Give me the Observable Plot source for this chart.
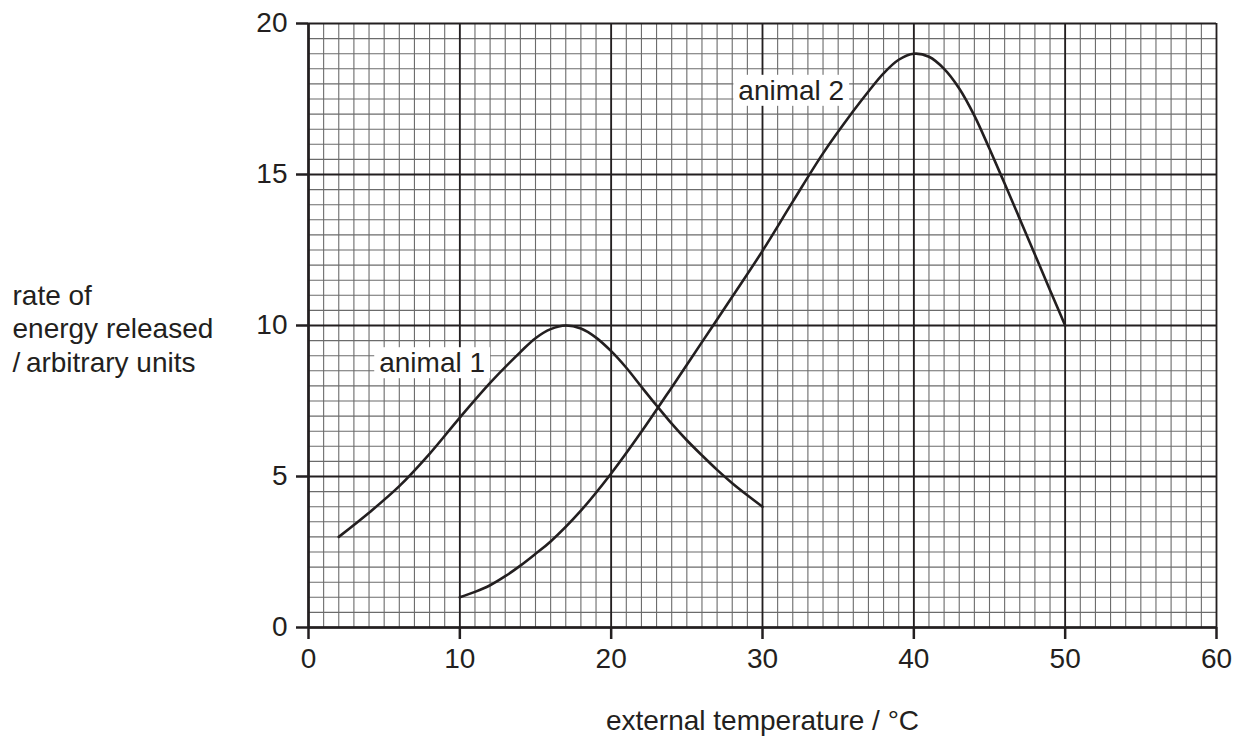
<!DOCTYPE html>
<html><head><meta charset="utf-8">
<script src="https://cdn.jsdelivr.net/npm/d3@7"></script>
<script src="https://cdn.jsdelivr.net/npm/@observablehq/plot@0.6"></script>
<style>html,body{margin:0;padding:0;background:#fff;}</style>
</head><body><div id="chart"></div>
<script>
// Data
const animal1Temp = [2, 4, 6, 8, 10, 12, 14, 15, 16, 17, 18, 19, 20, 21, 22, 23, 24, 25, 26, 27, 28, 29, 30];
const animal1Rate = [3.0, 3.8, 4.68, 5.75, 6.95, 8.1, 9.12, 9.58, 9.88, 10.0, 9.9, 9.6, 9.15, 8.6, 7.97, 7.35, 6.75, 6.2, 5.7, 5.22, 4.78, 4.38, 4.0];
const animal2Temp = [10, 11, 12, 13, 14, 15, 16, 18, 20, 22, 24, 26, 28, 30, 32, 34, 36, 37, 38, 39, 40, 41, 42, 43, 44, 45, 46, 47, 48, 49, 50];
const animal2Rate = [1.0, 1.18, 1.4, 1.7, 2.05, 2.44, 2.85, 3.87, 5.1, 6.48, 7.95, 9.45, 10.95, 12.47, 14.1, 15.7, 17.1, 17.75, 18.35, 18.8, 19.0, 18.9, 18.5, 17.85, 16.95, 15.85, 14.7, 13.53, 12.35, 11.17, 10.0];

const xTicks = [0, 10, 20, 30, 40, 50, 60];
const yTicks = [0, 5, 10, 15, 20];
const xMinor = d3.range(0, 61, 1);
const yMinor = d3.range(0, 20.01, 0.5);

const labelText = ["animal 1", "animal 2"];
const labelX = [8.17, 31.9];
const labelY = [8.75, 17.77];

const xLabel = "external temperature / °C";
const yLabel = "rate of\nenergy released\n/\u2009arbitrary units";

const ink = "#231f20";
const a1 = animal1Temp.map((t, i) => ({t, r: animal1Rate[i]}));
const a2 = animal2Temp.map((t, i) => ({t, r: animal2Rate[i]}));
const labels = labelText.map((s, i) => ({s, x: labelX[i], y: labelY[i]}));

const chart = Plot.plot({
  width: 1242,
  height: 737,
  marginTop: 23,
  marginBottom: 110,
  marginLeft: 308,
  marginRight: 26,
  style: {fontFamily: "'Liberation Sans', Arial, Helvetica, sans-serif", fontSize: "28px", color: ink, background: "#fff"},
  x: {domain: [0, 60]},
  y: {domain: [0, 20]},
  marks: [
    Plot.ruleX(xMinor, {stroke: "#6b6b6b", strokeWidth: 1.1}),
    Plot.ruleY(yMinor, {stroke: "#6b6b6b", strokeWidth: 1.1}),
    Plot.ruleX(xTicks, {stroke: ink, strokeWidth: 1.8}),
    Plot.ruleY(yTicks, {stroke: ink, strokeWidth: 1.8}),
    Plot.ruleX([0], {stroke: ink, strokeWidth: 2.6}),
    Plot.ruleY([0], {stroke: ink, strokeWidth: 2.6}),
    Plot.axisX(xTicks, {tickSize: 12, tickPadding: 9, strokeWidth: 2.5, label: null}),
    Plot.axisY(yTicks, {tickSize: 12, tickPadding: 9, strokeWidth: 2.5, label: null}),
    Plot.line(a1, {x: "t", y: "r", curve: "catmull-rom", stroke: ink, strokeWidth: 2.6, strokeLinejoin: "round"}),
    Plot.line(a2, {x: "t", y: "r", curve: "catmull-rom", stroke: ink, strokeWidth: 2.6, strokeLinejoin: "round"}),
    Plot.text(labels, {x: "x", y: "y", text: "s", fill: ink, fontSize: 28, lineAnchor: "middle"}),
    Plot.text([xLabel], {frameAnchor: "bottom", dy: 94, text: d => d, fill: ink, fontSize: 28, lineAnchor: "middle"}),
    Plot.text([yLabel], {frameAnchor: "left", textAnchor: "start", dx: -296, dy: 2, lineHeight: 1.2, text: d => d, fill: ink, fontSize: 28, lineAnchor: "middle"})
  ]
});
document.getElementById("chart").appendChild(chart);

// white boxes behind the curve labels
const ns = "http://www.w3.org/2000/svg";
chart.querySelectorAll("text").forEach(t => {
  if (!labelText.includes(t.textContent)) return;
  const bb = t.getBBox();
  const r = document.createElementNS(ns, "rect");
  r.setAttribute("x", bb.x - 5);
  r.setAttribute("y", bb.y);
  r.setAttribute("width", bb.width + 10);
  r.setAttribute("height", bb.height);
  r.setAttribute("fill", "#fff");
  if (t.getAttribute("transform")) r.setAttribute("transform", t.getAttribute("transform"));
  t.parentNode.insertBefore(r, t);
});
</script>
</body></html>
